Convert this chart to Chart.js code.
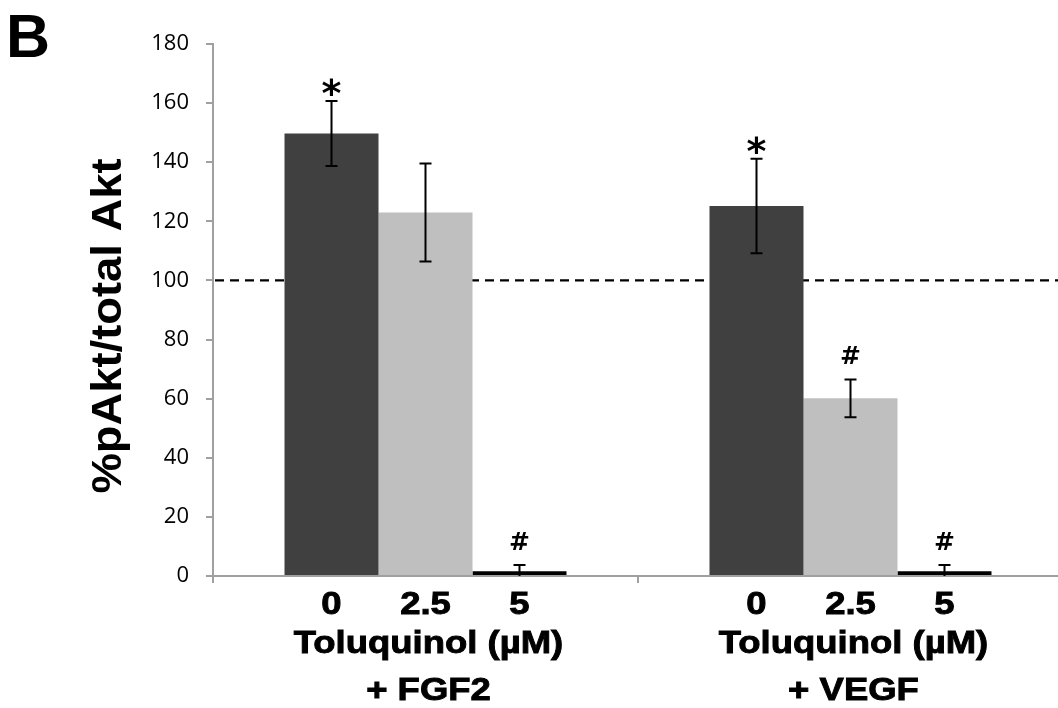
<!DOCTYPE html>
<html>
<head>
<meta charset="utf-8">
<script src="https://cdn.jsdelivr.net/npm/chart.js@4.4.1/dist/chart.umd.min.js"></script>
<style>
  html, body { margin: 0; padding: 0; background: #fff; overflow: hidden; }
  #wrap { width: 1064px; height: 708px; }
</style>
</head>
<body>
<div id="wrap"><canvas id="chart" width="1064" height="708"></canvas></div>
<script>
// groups and doses
const groups = ['FGF2', 'VEGF'];
const groupTitles = ['Toluquinol (µM)', 'Toluquinol (µM)'];
const groupAgents = ['+ FGF2', '+ VEGF'];
const doses = ['0', '2.5', '5'];

// %pAkt/total Akt, one array per dose (FGF2, VEGF)
const dose0 = [149.7, 125.2];
const dose25 = [123.0, 60.1];
const dose5 = [1.6, 1.6];

// error bars
const err0 = [11.0, 16.0];
const err25 = [16.6, 6.4];
const err5 = [2.1, 2.1];

// significance marks
const marks0 = ['*', '*'];
const marks25 = ['', '#'];
const marks5 = ['#', '#'];

const controlLevel = 100;
const yTicks = [0, 20, 40, 60, 80, 100, 120, 140, 160, 180];

const errors = [err0, err25, err5];
const marks = [marks0, marks25, marks5];
const axisGray = '#a0a0a0';

// bold text, a little wider than the font and with a thin outline
function stretchedText(ctx, text, x, y, sx) {
    ctx.save();
    ctx.translate(x, y);
    ctx.scale(sx, 1);
    ctx.fillText(text, 0, 0);
    ctx.strokeText(text, 0, 0);
    ctx.restore();
}

const extrasPlugin = {
    id: 'extras',
    beforeDatasetsDraw(chart) {
        const ctx = chart.ctx;
        const area = chart.chartArea;
        const y = chart.scales.y.getPixelForValue(controlLevel);
        ctx.save();
        ctx.strokeStyle = '#000';
        ctx.lineWidth = 2.2;
        ctx.setLineDash([9, 6]);
        ctx.beginPath();
        ctx.moveTo(area.left + 2, y);
        ctx.lineTo(area.right, y);
        ctx.stroke();
        ctx.restore();
    },
    afterDatasetsDraw(chart) {
        const ctx = chart.ctx;
        const yScale = chart.scales.y;
        ctx.save();
        ctx.strokeStyle = '#000';
        ctx.fillStyle = '#000';
        chart.data.datasets.forEach((ds, i) => {
            const meta = chart.getDatasetMeta(i);
            meta.data.forEach((bar, j) => {
                const v = ds.data[j];
                const e = errors[i][j];
                const top = yScale.getPixelForValue(v + e);
                const low = yScale.getPixelForValue(Math.max(v - e, 0));
                ctx.lineWidth = 2;
                ctx.beginPath();
                ctx.moveTo(bar.x, top);
                ctx.lineTo(bar.x, low);
                ctx.moveTo(bar.x - 6, top);
                ctx.lineTo(bar.x + 6, top);
                if (v - e >= 0) {
                    ctx.moveTo(bar.x - 6, low);
                    ctx.lineTo(bar.x + 6, low);
                }
                ctx.stroke();

                const m = marks[i][j];
                ctx.textAlign = 'center';
                ctx.textBaseline = 'alphabetic';
                if (m === '*') {
                    ctx.font = 'bold 38px "DejaVu Sans", sans-serif';
                    ctx.fillText(m, bar.x, top + 5);
                } else if (m === '#') {
                    ctx.font = 'bold 25px "DejaVu Sans", sans-serif';
                    ctx.fillText(m, bar.x, top - 15);
                }
            });
        });
        ctx.restore();
    },
    afterDraw(chart) {
        const ctx = chart.ctx;
        const xScale = chart.scales.x;
        ctx.save();
        ctx.fillStyle = '#000';
        ctx.strokeStyle = '#000';
        ctx.lineWidth = 0.9;
        ctx.textAlign = 'center';
        ctx.textBaseline = 'alphabetic';
        ctx.font = 'bold 32px "Liberation Sans", Arial, sans-serif';

        // dose labels under each bar
        chart.data.datasets.forEach((ds, i) => {
            chart.getDatasetMeta(i).data.forEach((bar) => {
                stretchedText(ctx, doses[i], bar.x, 614, 1.14);
            });
        });

        // group labels
        groups.forEach((g, k) => {
            const cx = xScale.getPixelForValue(k) + 3;
            stretchedText(ctx, groupTitles[k], cx, 653, 1.14);
            stretchedText(ctx, groupAgents[k], cx, 700, 1.14);
        });

        // y axis title
        ctx.save();
        ctx.translate(121, 326);
        ctx.rotate(-Math.PI / 2);
        ctx.scale(1.08, 1);
        ctx.font = 'bold 42px "Liberation Sans", Arial, sans-serif';
        ctx.fillText('%pAkt/total Akt', 0, 0);
        ctx.restore();

        // panel letter
        ctx.textAlign = 'left';
        ctx.font = 'bold 61px "Liberation Sans", Arial, sans-serif';
        ctx.fillText('B', 6, 57);
        ctx.restore();
    }
};

new Chart(document.getElementById('chart'), {
    type: 'bar',
    data: {
        labels: groups,
        datasets: [
            { label: doses[0], data: dose0, backgroundColor: '#404040' },
            { label: doses[1], data: dose25, backgroundColor: '#bfbfbf' },
            { label: doses[2], data: dose5, backgroundColor: '#000000' }
        ]
    },
    options: {
        responsive: false,
        animation: false,
        layout: { padding: { top: 44, right: 1, left: 0, bottom: 0 } },
        datasets: {
            bar: { categoryPercentage: 0.6635, barPercentage: 1.0, borderWidth: 0 }
        },
        plugins: {
            legend: { display: false },
            tooltip: { enabled: false }
        },
        scales: {
            x: {
                offset: true,
                afterFit(scale) { scale.height = 132; },
                border: { color: axisGray, width: 2 },
                grid: {
                    offset: true,
                    drawOnChartArea: false,
                    drawTicks: true,
                    tickLength: 7,
                    color: axisGray,
                    lineWidth: 2
                },
                ticks: { display: false }
            },
            y: {
                min: 0,
                max: 180,
                afterFit(scale) { scale.width = 213; },
                afterBuildTicks(scale) {
                    scale.ticks = yTicks.map(v => ({ value: v }));
                },
                border: { color: axisGray, width: 2 },
                grid: {
                    drawOnChartArea: false,
                    drawTicks: true,
                    tickLength: 7,
                    color: axisGray,
                    lineWidth: 2
                },
                ticks: {
                    padding: 17,
                    color: '#000',
                    font: { family: '"Open Sans", sans-serif', size: 22 }
                }
            }
        }
    },
    plugins: [extrasPlugin]
});
</script>
</body>
</html>
